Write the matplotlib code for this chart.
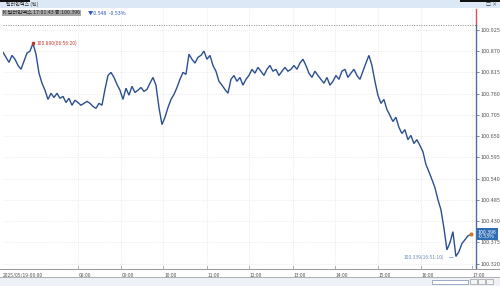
import numpy as np
import matplotlib.pyplot as plt
from matplotlib.patches import Rectangle

plt.rcParams['font.family'] = ['Noto Sans CJK KR', 'DejaVu Sans']

# tick chart: one value every few ticks, index based x axis
prices = [
    100.867, 100.854, 100.841, 100.859, 100.849, 100.833, 100.823, 100.844, 100.865, 100.870,
    100.890, 100.862, 100.813, 100.787, 100.769, 100.745, 100.761, 100.750, 100.761, 100.748,
    100.753, 100.737, 100.748, 100.730, 100.743, 100.737, 100.730, 100.735, 100.740, 100.735,
    100.727, 100.722, 100.735, 100.730, 100.771, 100.807, 100.815, 100.802, 100.784, 100.769,
    100.745, 100.774, 100.756, 100.779, 100.763, 100.769, 100.776, 100.766, 100.771, 100.787,
    100.802, 100.782, 100.724, 100.680, 100.699, 100.724, 100.745, 100.758, 100.776, 100.797,
    100.815, 100.810, 100.862, 100.849, 100.839, 100.854, 100.859, 100.870, 100.849, 100.859,
    100.833, 100.818, 100.792, 100.782, 100.771, 100.761, 100.797, 100.807, 100.792, 100.802,
    100.782, 100.797, 100.807, 100.823, 100.813, 100.828, 100.818, 100.807, 100.823, 100.833,
    100.818, 100.823, 100.807, 100.818, 100.828, 100.818, 100.823, 100.833, 100.823, 100.839,
    100.849, 100.833, 100.813, 100.802, 100.818, 100.807, 100.797, 100.787, 100.802, 100.782,
    100.792, 100.807, 100.797, 100.818, 100.823, 100.802, 100.813, 100.823, 100.807, 100.797,
    100.818, 100.839, 100.859, 100.833, 100.792, 100.756, 100.735, 100.745, 100.719, 100.704,
    100.688, 100.699, 100.673, 100.657, 100.667, 100.641, 100.652, 100.631, 100.641, 100.626,
    100.610, 100.577, 100.558, 100.538, 100.517, 100.486, 100.460, 100.413, 100.356, 100.374,
    100.403, 100.339, 100.351, 100.372, 100.382, 100.392, 100.396,
]

y_ticks = [100.925, 100.870, 100.815, 100.760, 100.705, 100.650, 100.595,
           100.540, 100.485, 100.430, 100.375, 100.320]
hour_pos = [24.9, 39.2, 53.4, 67.9, 82.0, 96.6, 110.7, 125.0, 139.2, 156.2]
hour_labels = ['08:00', '09:00', '10:00', '11:00', '12:00', '13:00',
               '14:00', '15:00', '16:00', '17:00']
first_label = '2025/05/19-06:00'

high_idx, high_txt = 10, '100.890(06:56:20)'
low_idx, low_txt = 151, '100.339(16:51:10)'
last_txt, last_chg = '100.396', '-0.53%'
high_line = 100.937

line_col = '#2b4f8f'
grid_col = '#d9d9d9'
txt_col = '#555555'

W, H = 500, 286
fig = plt.figure(figsize=(W / 100, H / 100), dpi=100)
ax = fig.add_axes([3 / W, (H - 268) / H, 473 / W, 259 / H])

x = np.arange(len(prices))
ax.plot(x, prices, color=line_col, lw=1.0, solid_joinstyle='miter')
ax.set_xlim(0, 157.7)
ax.set_ylim(100.309, 100.979)

ax.axhline(high_line, color='#888888', lw=0.7, ls=(0, (1, 1.5)))

ax.set_yticks(y_ticks)
ax.set_xticks(hour_pos)
ax.set_xticklabels([])
ax.yaxis.tick_right()
ax.yaxis.set_major_formatter(plt.FormatStrFormatter('%.3f'))
ax.tick_params(axis='y', labelsize=4, colors=txt_col, length=2, width=0.5, pad=1)
ax.tick_params(axis='x', length=0)
ax.grid(True, color=grid_col, lw=0.5, ls=(0, (1, 2)))

for s in ['top', 'left', 'bottom']:
    ax.spines[s].set_visible(False)
ax.spines['right'].set_color('#4a6fa5')
ax.spines['right'].set_linewidth(1.0)
ax.spines['right'].set_bounds(100.309, high_line)
ax.plot([1.0, 1.0], [high_line, 100.979], transform=ax.get_yaxis_transform(),
        color='#d9534f', lw=1.0, clip_on=False)

# high / low marks
ax.plot(high_idx, prices[high_idx], 's', ms=1.5, color='#c0392b')
ax.text(high_idx + 1.2, prices[high_idx], high_txt, fontsize=3.6, color='#c0392b',
        va='center', ha='left')
ax.annotate(low_txt, xy=(low_idx, prices[low_idx] - 0.003),
            xytext=(low_idx - 4, prices[low_idx] - 0.003), fontsize=3.6,
            color='#6a8bb5', ha='right', va='center',
            arrowprops=dict(arrowstyle='-', color='#6a8bb5', lw=0.5))
ax.plot(x[-1], prices[-1], 'o', ms=2, color='#c87d2a')

# last price box at the right axis
ax.text(1.004, prices[-1], last_txt + '\n' + last_chg, transform=ax.get_yaxis_transform(),
        fontsize=3.8, color='white', va='center', ha='left', linespacing=0.9,
        bbox=dict(boxstyle='square,pad=0.25', fc='#2f6db5', ec='none'))

# header strip and title line
fig.patches.append(Rectangle((0, 1 - 8 / H), 1, 8 / H, transform=fig.transFigure,
                             fc='#dce8f5', ec='none', zorder=-1))
fig.patches.append(Rectangle((0, 1 - 1.5 / H), 30 / W, 1.5 / H, transform=fig.transFigure,
                             fc='#111111', ec='none'))
fig.patches.append(Rectangle((460 / W, 1 - 1.5 / H), 40 / W, 1.5 / H, transform=fig.transFigure,
                             fc='#111111', ec='none'))
fig.text(6 / W, 1 - 4 / H, '달러인덱스 (틱)', fontsize=3.6, color='#333333', va='center')
fig.text(486 / W, 1 - 4 / H, '□ ×', fontsize=3.6, color='#333333', va='center')
fig.text(3 / W, 1 - 13 / H, 'K 달러인덱스 17:01:43 종:100.396', fontsize=3.8,
         color='#222222', va='center',
         bbox=dict(boxstyle='square,pad=0.1', fc='#a8a8a8', ec='none'))
fig.text(88 / W, 1 - 13 / H, '▼0.548  -0.53%', fontsize=3.8, color='#2f55c9', va='center')

# time axis strip
fig.patches.append(Rectangle((0, (H - 270) / H), 1, 1.2 / H, transform=fig.transFigure,
                             fc='#9a9a9a', ec='none'))
fig.patches.append(Rectangle((0, 0), 1, (H - 278) / H, transform=fig.transFigure,
                             fc='#eef1f5', ec='none'))
fig.patches.append(Rectangle((0, (H - 278) / H), 1, 0.8 / H, transform=fig.transFigure,
                             fc='#b0b0b0', ec='none'))
fig.patches.append(Rectangle((432 / W, 2 / H), 36 / W, 4 / H, transform=fig.transFigure,
                             fc='white', ec='#7a8fb0', lw=0.5))
for bx in [470, 478, 486]:
    fig.patches.append(Rectangle((bx / W, 2 / H), 7 / W, 5 / H, transform=fig.transFigure,
                                 fc='#f5f5f5', ec='#888888', lw=0.4))

for pos, lab in zip(hour_pos, hour_labels):
    ax.plot([pos, pos], [0, 0.008], transform=ax.get_xaxis_transform(),
            color='#888888', lw=0.5, clip_on=False)
    ax.text(pos + 0.3, -0.028, lab, transform=ax.get_xaxis_transform(),
            fontsize=3.6, color=txt_col, ha='left', va='center')
ax.text(0, -0.028, first_label, transform=ax.get_xaxis_transform(),
        fontsize=3.6, color=txt_col, ha='left', va='center')

fig.savefig('out.png', dpi=100)
